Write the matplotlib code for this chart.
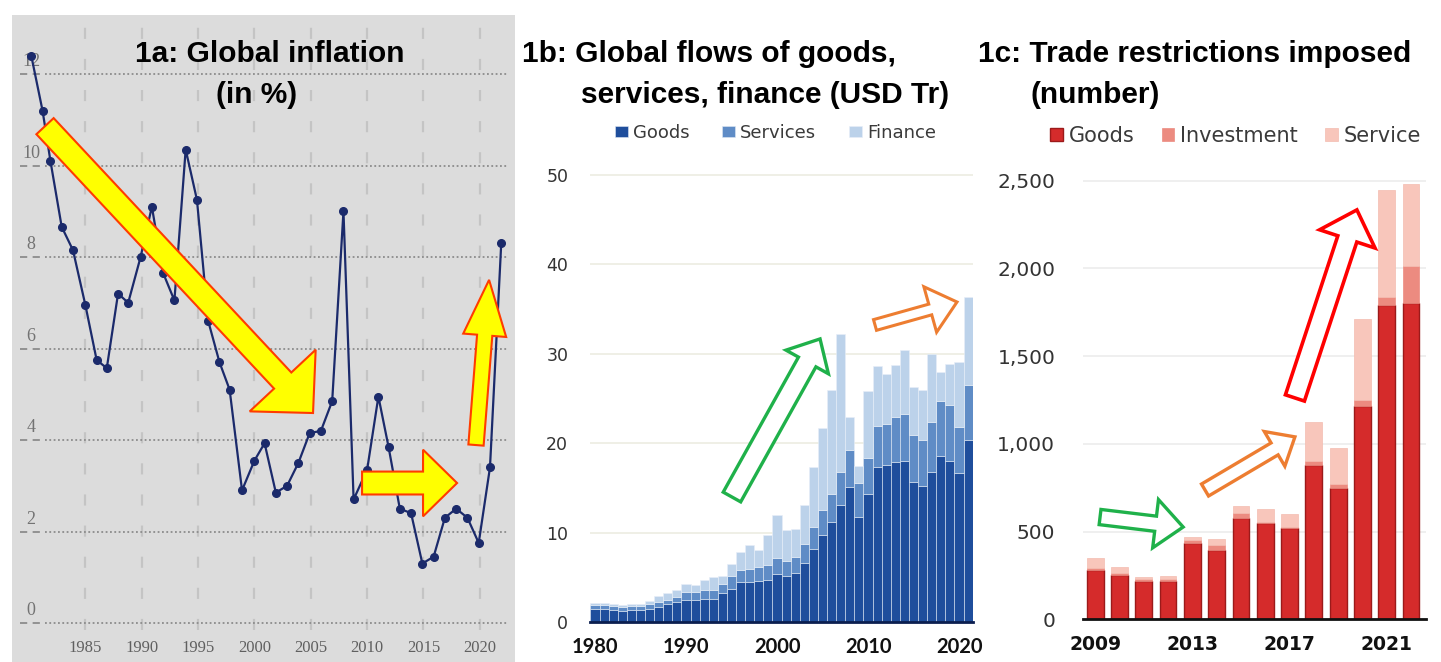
import numpy as np
import matplotlib
matplotlib.use("Agg")
import matplotlib.pyplot as plt
from matplotlib.patches import FancyArrowPatch

W, H = 1441, 662

# --- 1a: global inflation (in %) ---
infl_years = [1980.2, 1981.2, 1981.9, 1982.9, 1983.9, 1985.0, 1986.0, 1986.9, 1987.9, 1988.8,
              1989.9, 1990.9, 1991.9, 1992.9, 1993.9, 1994.9, 1995.9, 1996.9, 1997.8, 1998.9,
              2000.0, 2000.9, 2001.9, 2002.9, 2003.9, 2004.9, 2005.9, 2006.9, 2007.9, 2008.8,
              2010.0, 2011.0, 2011.9, 2012.9, 2013.9, 2014.9, 2015.9, 2016.9, 2017.9, 2018.9,
              2019.9, 2020.9, 2021.9]
infl_values = [12.4, 11.2, 10.1, 8.66, 8.15, 6.95, 5.75, 5.57, 7.2, 7.0,
               8.0, 9.1, 7.65, 7.05, 10.35, 9.25, 6.6, 5.7, 5.1, 2.9,
               3.55, 3.93, 2.85, 3.0, 3.5, 4.15, 4.2, 4.85, 9.0, 2.7,
               3.35, 4.95, 3.85, 2.5, 2.4, 1.3, 1.45, 2.3, 2.5, 2.3,
               1.75, 3.4, 8.3]
infl_yticks = [0, 2, 4, 6, 8, 10, 12]
infl_xticks = [1985, 1990, 1995, 2000, 2005, 2010, 2015, 2020]

# --- 1b: global flows (USD Tr) ---
flow_years = list(range(1980, 2022))
flow_goods = [1.4, 1.4, 1.3, 1.25, 1.3, 1.3, 1.4, 1.7, 2.0, 2.25, 2.5, 2.5, 2.6, 2.6, 3.2, 3.7,
              4.5, 4.5, 4.55, 4.65, 5.4, 5.15, 5.5, 6.65, 8.2, 9.7, 11.2, 13.05, 15.1, 11.75,
              14.35, 17.35, 17.55, 17.9, 18.0, 15.7, 15.2, 16.8, 18.55, 18.0, 16.7, 20.4]
flow_services = [0.45, 0.45, 0.45, 0.45, 0.45, 0.5, 0.6, 0.55, 0.5, 0.55, 0.85, 0.8, 1.0, 0.95,
                 1.1, 1.4, 1.35, 1.45, 1.55, 1.7, 1.8, 1.7, 1.8, 2.05, 2.4, 2.8, 3.15, 3.75,
                 4.1, 3.75, 3.95, 4.55, 4.65, 5.05, 5.3, 5.2, 5.1, 5.6, 6.15, 6.25, 5.1, 6.1]
flow_finance = [0.3, 0.3, 0.25, 0.15, 0.25, 0.2, 0.35, 0.65, 0.7, 0.8, 0.95, 0.8, 1.05, 1.5,
                0.9, 1.4, 1.95, 2.7, 1.9, 3.35, 4.8, 3.4, 3.1, 4.35, 6.75, 9.2, 11.55, 15.4,
                3.75, 2.0, 7.55, 6.7, 5.5, 5.75, 7.1, 5.4, 5.7, 7.6, 3.3, 4.55, 7.3, 9.8]
flow_labels = ["Goods", "Services", "Finance"]
flow_xticks = [1980, 1990, 2000, 2010, 2020]
flow_yticks = [0, 10, 20, 30, 40, 50]

# --- 1c: trade restrictions imposed (number) ---
restr_years = list(range(2009, 2023))
restr_goods = [281, 253, 220, 220, 433, 395, 576, 551, 519, 880, 747, 1217, 1789, 1802]
restr_invest = [10, 10, 8, 10, 19, 29, 32, 6, 6, 23, 25, 34, 48, 213]
restr_service = [57, 34, 15, 17, 16, 32, 40, 72, 76, 224, 203, 460, 612, 468]
restr_labels = ["Goods", "Investment", "Service"]
restr_xticks = [2009, 2013, 2017, 2021]
restr_yticks = [0, 500, 1000, 1500, 2000, 2500]

fig = plt.figure(figsize=(W / 100, H / 100), dpi=100)
fig.patch.set_facecolor("white")

serif = "Liberation Serif"
sans = "DejaVu Sans"


def arrow(ax, start, end, tail, hw, hl, fc, ec, lw):
    style = f"simple,tail_width={tail},head_width={hw},head_length={hl}"
    p = FancyArrowPatch(start, end, arrowstyle=style, mutation_scale=1,
                        fc=fc, ec=ec, lw=lw, zorder=10, clip_on=False,
                        shrinkA=0, shrinkB=0, joinstyle="miter")
    ax.add_patch(p)


# ---------- panel 1a ----------
ax1 = fig.add_axes([12 / W, 0, 503 / W, 647 / H])
ax1.set_facecolor("#dcdcdc")
ax1.set_xlim(1978.49, 2023.12)
ax1.set_ylim(-0.852, 13.29)
for s in ax1.spines.values():
    s.set_visible(False)
ax1.set_xticks([])
ax1.set_yticks([])

ax1.vlines(infl_xticks, -0.15, 13.07, colors="#c4c4c4", lw=1.6,
           linestyles=(0, (5, 9)), zorder=1)
for v in infl_yticks:
    ax1.axhline(v, xmin=0.0656, xmax=0.986, color="#8c8c8c", lw=1.3,
                ls=(0, (1, 1.4)), zorder=1)
    ax1.axhline(v, xmin=0.016, xmax=0.06, color="#8c8c8c", lw=1.3,
                ls=(0, (4, 3)), zorder=1)
    ax1.text(1980.18, v + 0.27, str(v), ha="center", va="center",
             fontsize=13, family=serif, color="#737373", zorder=2)
for yr in infl_xticks:
    ax1.text(yr, -0.55, str(yr), ha="center", va="center", fontsize=12,
             family=serif, color="#606060")

ax1.plot(infl_years, infl_values, color="#1b2a6b", lw=1.6, marker="o",
         ms=5.5, zorder=5)

# yellow arrows
arrow(ax1, (1981.42, 10.86), (2005.2, 4.59), 17, 65, 32, "#ffff00", "#ff3c00", 1.5)
arrow(ax1, (2009.55, 3.06), (2017.98, 3.06), 16.5, 48, 24.5, "#ffff00", "#ff3c00", 1.5)
arrow(ax1, (2019.66, 3.89), (2020.82, 7.5), 11, 31, 40, "#ffff00", "#ff3c00", 1.5)

fig.text(135 / W, 1 - 62 / H, "1a: Global inflation", fontsize=21.5,
         fontweight="bold", family="Liberation Sans", va="baseline")
fig.text(216 / W, 1 - 103 / H, "(in %)", fontsize=21.5,
         fontweight="bold", family="Liberation Sans", va="baseline")

# ---------- panel 1b ----------
ax2 = fig.add_axes([590.45 / W, 40 / H, 382.2 / W, 456 / H])
g = np.array(flow_goods)
s = np.array(flow_services)
f = np.array(flow_finance)
b1 = ax2.bar(flow_years, g, width=1.0, color="#1f4e9c", edgecolor="#dfe8f3", lw=0.4)
b2 = ax2.bar(flow_years, s, bottom=g, width=1.0, color="#5f8cc6", edgecolor="#dfe8f3", lw=0.4)
b3 = ax2.bar(flow_years, f, bottom=g + s, width=1.0, color="#bcd2ea", edgecolor="#e8eff8", lw=0.4)
ax2.set_xlim(1979.5, 2021.5)
ax2.set_ylim(0, 51)
ax2.set_yticks(flow_yticks)
ax2.set_xticks(flow_xticks)
ax2.yaxis.grid(True, color="#ecece2", lw=1.2)
ax2.set_axisbelow(True)
for k in ["top", "right", "left"]:
    ax2.spines[k].set_visible(False)
ax2.spines["bottom"].set_color("#0b1e4f")
ax2.spines["bottom"].set_linewidth(2)
ax2.tick_params(axis="y", length=0, pad=16, labelsize=12.5, labelcolor="#333333")
ax2.tick_params(axis="x", length=0, pad=11, labelsize=14.5, labelcolor="#111111")
for lab in ax2.get_yticklabels():
    lab.set_family(sans)
for lab in ax2.get_xticklabels():
    lab.set_family("Lato")
    lab.set_fontweight("bold")

leg = ax2.legend([b1, b2, b3], flow_labels, loc="center left",
                 bbox_to_anchor=(615 / W, 1 - 133 / H), bbox_transform=fig.transFigure,
                 ncol=3, frameon=False, prop={"family": sans, "size": 13},
                 handlelength=0.7, handleheight=0.6, handletextpad=0.3,
                 columnspacing=1.8, borderpad=0, borderaxespad=0)
for t in leg.get_texts():
    t.set_color("#3a3a3a")

arrow(ax2, (1995.05, 13.98), (2004.73, 31.66), 14.4, 35, 19, "white", "#1fb14a", 2.4)
arrow(ax2, (2010.77, 33.22), (2019.78, 35.79), 8, 34, 20, "white", "#ed7d31", 2.2)

fig.text(522 / W, 1 - 62 / H, "1b: Global flows of goods,", fontsize=21.5,
         fontweight="bold", family="Liberation Sans", va="baseline")
fig.text(581 / W, 1 - 103 / H, "services, finance (USD Tr)", fontsize=21.5,
         fontweight="bold", family="Liberation Sans", va="baseline")

# ---------- panel 1c ----------
ax3 = fig.add_axes([1083.05 / W, 42.7 / H, 342.6 / W, 447.3 / H])
rg = np.array(restr_goods)
ri = np.array(restr_invest)
rs = np.array(restr_service)
c1 = ax3.bar(restr_years, rg, width=0.69, color="#d52b2b", edgecolor="#9c1a1a", lw=1)
c2 = ax3.bar(restr_years, ri, bottom=rg, width=0.69, color="#ec8b80", edgecolor="#ec8b80", lw=0.5)
c3 = ax3.bar(restr_years, rs, bottom=rg + ri, width=0.69, color="#f8c6bb", edgecolor="#f3bcb0", lw=0.5)
ax3.set_xlim(2008.5, 2022.6)
ax3.set_ylim(0, 2550)
ax3.set_yticks(restr_yticks)
ax3.set_yticklabels([f"{v:,}" for v in restr_yticks])
ax3.set_xticks(restr_xticks)
ax3.yaxis.grid(True, color="#ececec", lw=1.2)
ax3.set_axisbelow(True)
for k in ["top", "right", "left"]:
    ax3.spines[k].set_visible(False)
ax3.spines["bottom"].set_color("#111111")
ax3.spines["bottom"].set_linewidth(2)
ax3.tick_params(axis="y", length=0, pad=20, labelsize=14.5, labelcolor="#333333")
ax3.tick_params(axis="x", length=0, pad=11, labelsize=13.5, labelcolor="#111111")
for lab in ax3.get_yticklabels():
    lab.set_family(sans)
for lab in ax3.get_xticklabels():
    lab.set_family(sans)
    lab.set_fontweight("bold")

leg3 = ax3.legend([c1, c2, c3], restr_labels, loc="center left",
                  bbox_to_anchor=(1050 / W, 1 - 136 / H), bbox_transform=fig.transFigure,
                  ncol=3, frameon=False, prop={"family": sans, "size": 15},
                  handlelength=0.6, handleheight=0.55, handletextpad=0.3,
                  columnspacing=1.3, borderpad=0, borderaxespad=0)
for t in leg3.get_texts():
    t.set_color("#3a3a3a")

arrow(ax3, (2009.2, 583), (2012.62, 526), 11, 35, 20, "white", "#1fb14a", 2.4)
arrow(ax3, (2013.52, 737), (2017.22, 1040), 10, 29, 17, "white", "#ed7d31", 2.4)
arrow(ax3, (2017.22, 1262), (2019.77, 2334), 14.4, 42, 22, "white", "#ff0000", 2.6)

fig.text(978 / W, 1 - 62 / H, "1c: Trade restrictions imposed", fontsize=21.5,
         fontweight="bold", family="Liberation Sans", va="baseline")
fig.text(1030 / W, 1 - 103 / H, "(number)", fontsize=21.5,
         fontweight="bold", family="Liberation Sans", va="baseline")

fig.savefig("out.png", dpi=100)
